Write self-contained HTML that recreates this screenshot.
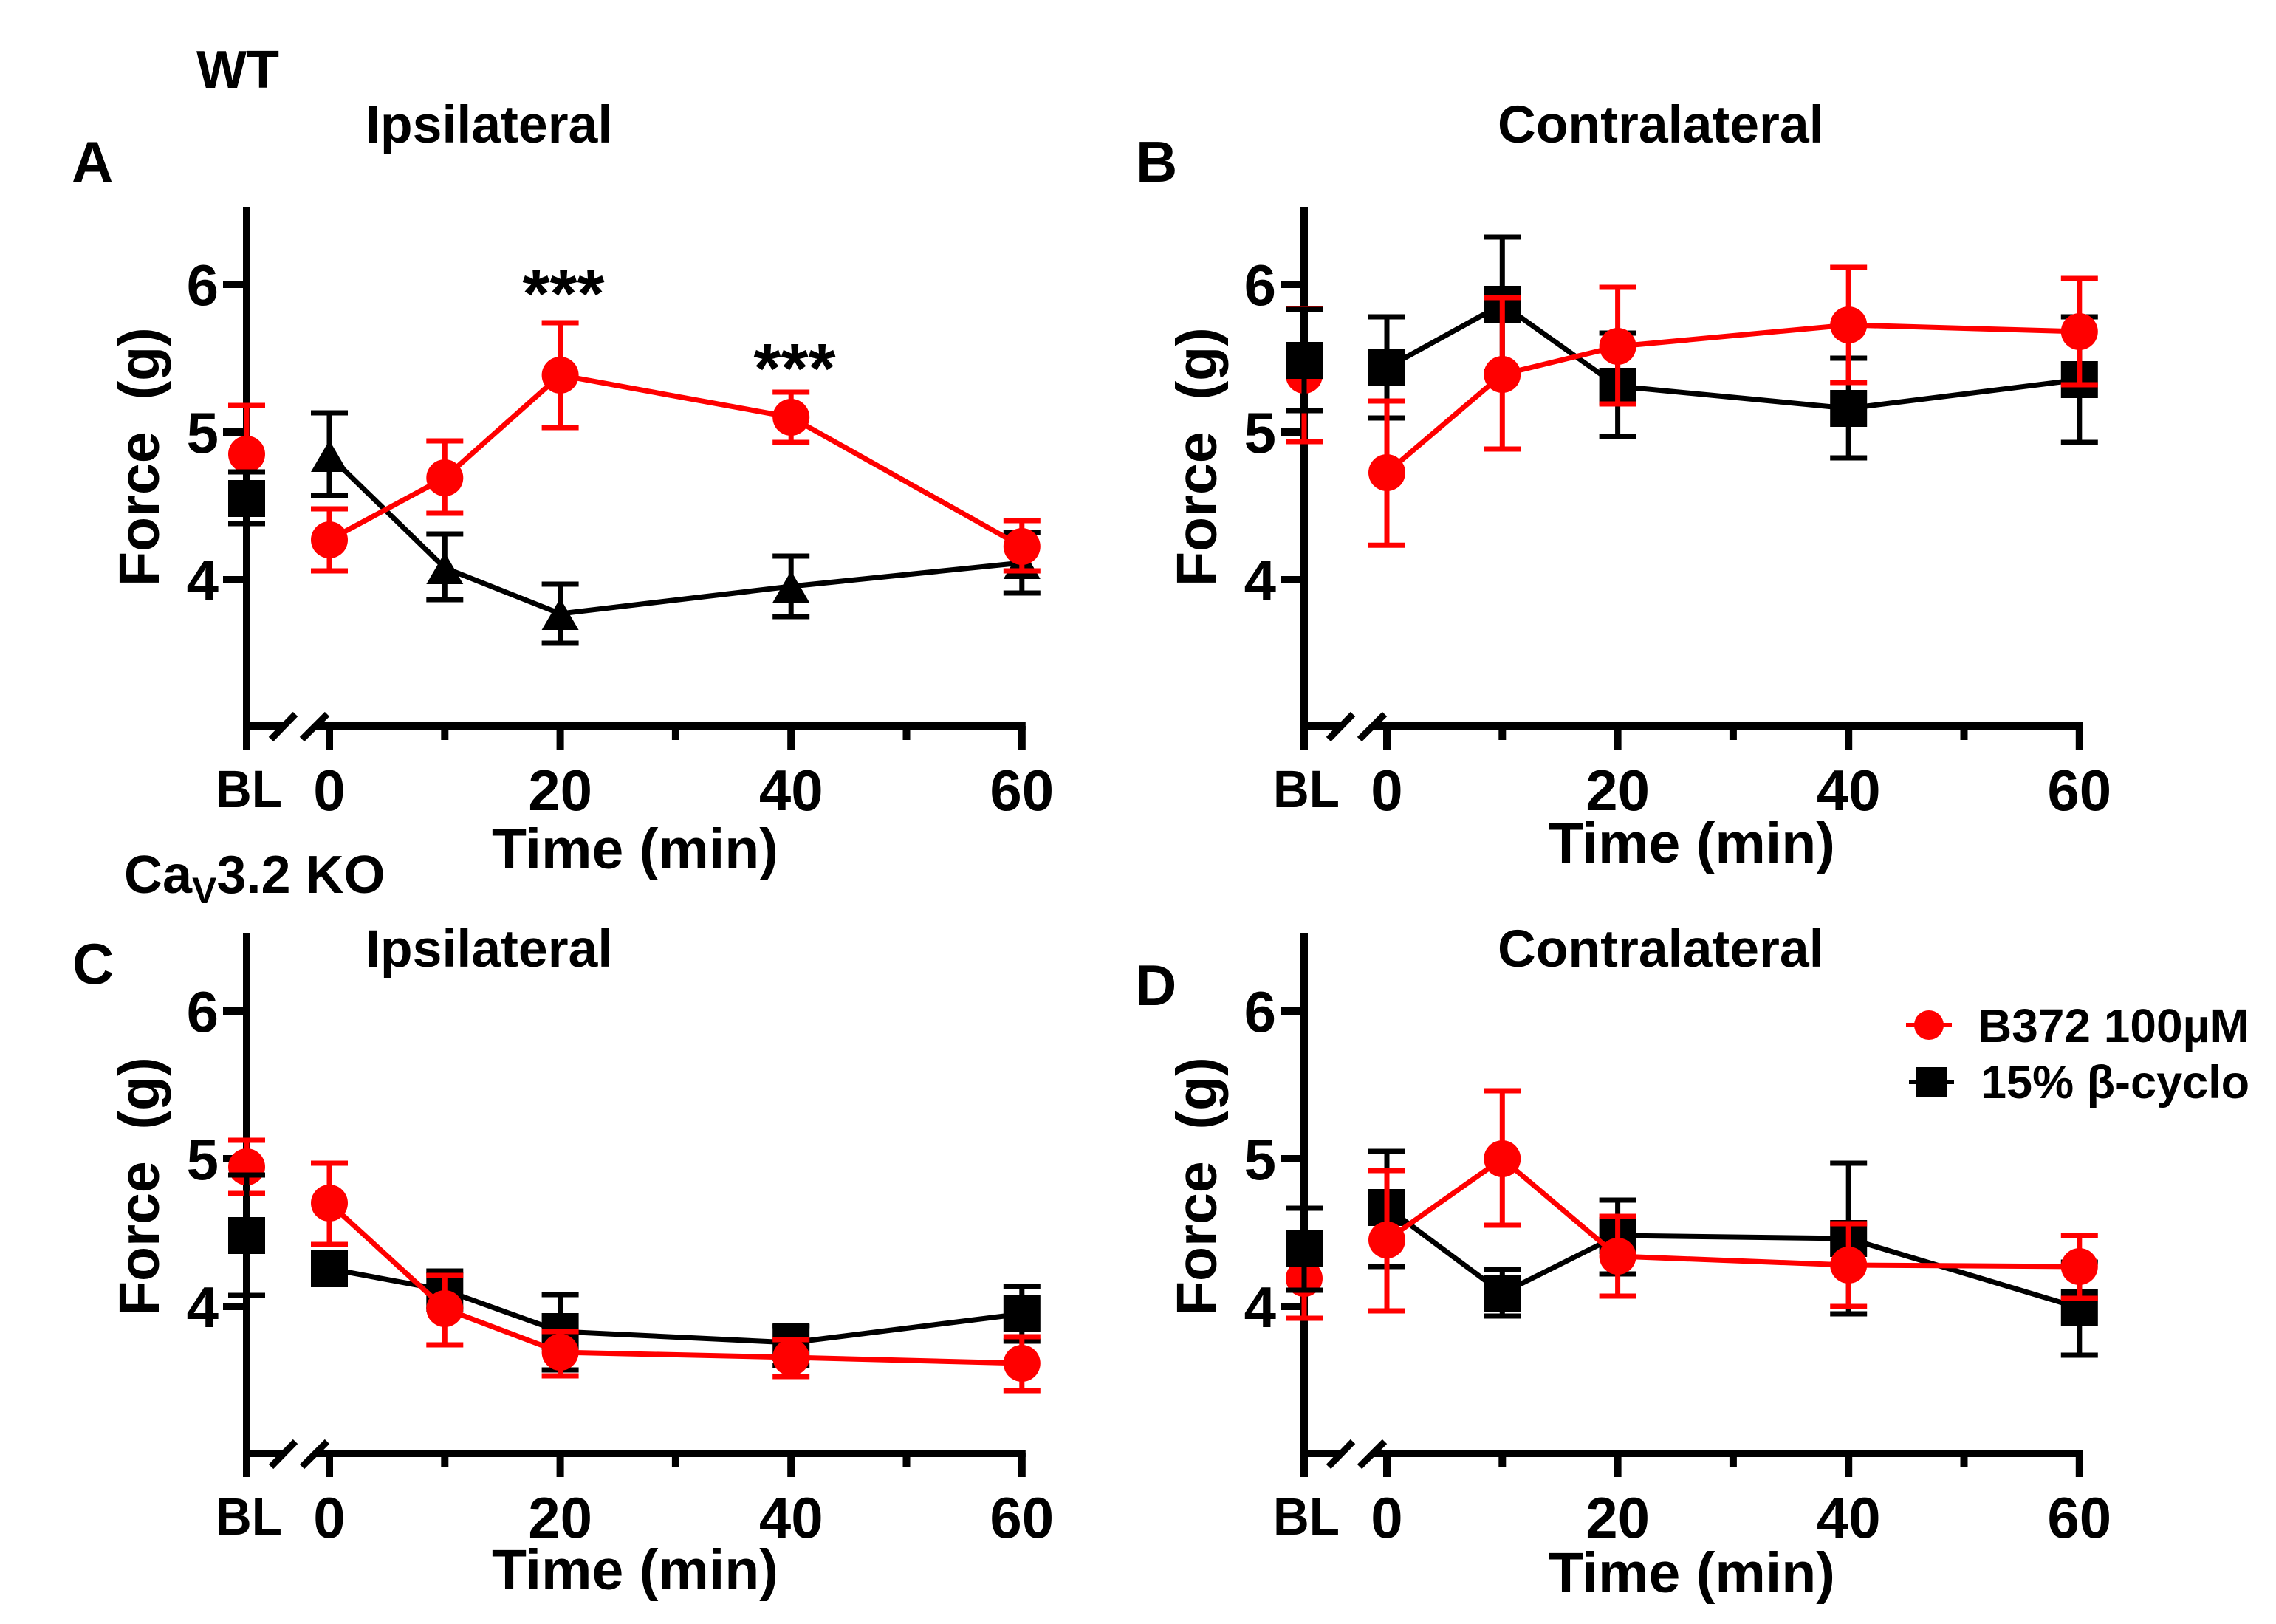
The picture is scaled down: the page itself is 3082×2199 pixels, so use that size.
<!DOCTYPE html>
<html lang="en">
<head>
<meta charset="utf-8">
<title>Force over time, WT and CaV3.2 KO</title>
<style>
html,body{margin:0;padding:0;background:#fff;}
svg{display:block;}
text{font-family:"Liberation Sans",Arial,sans-serif;font-weight:bold;fill:#000;white-space:pre;}
</style>
</head>
<body>
<svg id="figure" xmlns="http://www.w3.org/2000/svg" width="3082" height="2199" viewBox="0 0 3082 2199">
  <rect x="0" y="0" width="3082" height="2199" fill="#fff"/>
  <text x="266" y="119" font-size="72">WT</text>
  <text x="168" y="1209" font-size="72">Ca<tspan font-size="50" dy="14">V</tspan><tspan dy="-14">3.2 KO</tspan></text>

  <text x="97" y="246" font-size="78">A</text>
  <text x="1538" y="246" font-size="78">B</text>
  <text x="98" y="1332" font-size="78">C</text>
  <text x="1537" y="1361" font-size="78">D</text>

  <text x="495" y="193" font-size="71.6">Ipsilateral</text>
  <text x="2028" y="193" font-size="71.6">Contralateral</text>
  <text x="495" y="1309" font-size="71.6">Ipsilateral</text>
  <text x="2028" y="1309" font-size="71.6">Contralateral</text>

  <text x="666" y="1176" font-size="77">Time (min)</text>
  <text x="2097" y="1168" font-size="77">Time (min)</text>
  <text x="666" y="2152" font-size="77">Time (min)</text>
  <text x="2097" y="2156" font-size="77">Time (min)</text>

  <text transform="translate(215 794) rotate(-90)" font-size="77">Force  (g)</text>
  <text transform="translate(1647 794) rotate(-90)" font-size="77">Force  (g)</text>
  <text transform="translate(215 1782) rotate(-90)" font-size="77">Force  (g)</text>
  <text transform="translate(1647 1782) rotate(-90)" font-size="77">Force  (g)</text>

  <text x="763" y="430" font-size="95" text-anchor="middle">***</text>
  <text x="1076" y="531" font-size="95" text-anchor="middle">***</text>

  <g id="plots"></g>

  <g>
    <g>
      <line x1="2581" x2="2643" y1="1388" y2="1388" stroke="#ff0000" stroke-width="6"/>
      <circle cx="2612" cy="1388" r="20" fill="#ff0000"/>
      <text x="2678" y="1411" font-size="64">B372 100µM</text>
    </g>
    <g>
      <line x1="2585" x2="2646" y1="1465" y2="1465" stroke="#000" stroke-width="6"/>
      <rect x="2595" y="1445" width="41" height="40" fill="#000"/>
      <text x="2682" y="1487" font-size="63">15% β-cyclo</text>
    </g>
  </g>
</svg>

<script>
// ---- chart data (first entry in each series is baseline "BL") ----
const timeCategories = ["BL", 0, 10, 20, 40, 60];
const yTickValues = [4, 5, 6];
const xTickMinutes = [0, 10, 20, 30, 40, 50, 60];
const xTickLabels = [0, 20, 40, 60];
const baselineLabel = "BL";

const panelAB372Mean  = [4.85, 4.27, 4.69, 5.385, 5.10, 4.225];
const panelAB372Upper = [5.18, 4.48, 4.94, 5.74, 5.27, 4.40];
const panelAB372Lower = [4.51, 4.06, 4.45, 5.03, 4.93, 4.06];
const panelAVehMean   = [4.55, 4.84, 4.08, 3.77, 3.955, 4.115];
const panelAVehUpper  = [4.73, 5.13, 4.31, 3.97, 4.16, 4.32];
const panelAVehLower  = [4.38, 4.57, 3.865, 3.57, 3.75, 3.91];

const panelBB372Mean  = [5.385, 4.725, 5.39, 5.58, 5.725, 5.68];
const panelBB372Upper = [5.835, 5.21, 5.91, 5.98, 6.115, 6.04];
const panelBB372Lower = [4.935, 4.234, 4.885, 5.19, 5.335, 5.32];
const panelBVehMean   = [5.485, 5.435, 5.865, 5.31, 5.16, 5.355];
const panelBVehUpper  = [5.83, 5.78, 6.32, 5.67, 5.50, 5.78];
const panelBVehLower  = [5.145, 5.095, 5.41, 4.97, 4.825, 4.93];

const panelCB372Mean  = [4.945, 4.70, 3.985, 3.69, 3.655, 3.615];
const panelCB372Upper = [5.125, 4.97, 4.21, 3.83, 3.775, 3.795];
const panelCB372Lower = [4.765, 4.42, 3.74, 3.53, 3.525, 3.43];
const panelCVehMean   = [4.48, 4.255, 4.11, 3.83, 3.755, 3.95];
const panelCVehUpper  = [4.89, 4.35, 4.24, 4.08, 3.87, 4.135];
const panelCVehLower  = [4.075, 4.16, 3.98, 3.57, 3.60, 3.765];

const panelDB372Mean  = [4.19, 4.45, 5.0, 4.34, 4.28, 4.27];
const panelDB372Upper = [4.46, 4.92, 5.46, 4.61, 4.56, 4.48];
const panelDB372Lower = [3.92, 3.97, 4.55, 4.07, 4.0, 4.055];
const panelDVehMean   = [4.395, 4.67, 4.09, 4.48, 4.46, 3.99];
const panelDVehUpper  = [4.665, 5.05, 4.25, 4.72, 4.97, 4.30];
const panelDVehLower  = [4.11, 4.27, 3.935, 4.22, 3.95, 3.67];

// ---- layout ----
const SVG_NS = "http://www.w3.org/2000/svg";
const RED = "#ff0000";
const BLACK = "#000000";
const AXIS_W = 10;
const MARK_W = 7;
const CAP_W = 50;
const R = 25;
const MIN_PX = 15.63;
const UNIT_PX = 200;

function mk(parent, tag, attrs, name, interactable) {
  const el = document.createElementNS(SVG_NS, tag);
  for (const k in attrs) el.setAttribute(k, attrs[k]);
  
  
  parent.appendChild(el);
  return el;
}

function drawPanel(root, p) {
  const g = mk(root, 'g', {}, 'panel-' + p.id, false);
  const xOf = t => t === baselineLabel ? p.blX : p.zeroX + t * MIN_PX;
  const yOf = v => p.y6 + (6 - v) * UNIT_PX;
  const axisY = p.axisY;
  const tickEnd = axisY + 32;
  const minorEnd = axisY + 19;

  const axes = mk(g, 'g', {}, 'panel-' + p.id + '-axes', false);
  mk(axes, 'line', {x1: p.blX, x2: p.blX, y1: yOf(6) - 105, y2: tickEnd, stroke: BLACK, 'stroke-width': AXIS_W}, 'panel-' + p.id + '-y-axis', false);
  yTickValues.forEach(v => {
    mk(axes, 'line', {x1: p.blX - 32, x2: p.blX, y1: yOf(v), y2: yOf(v), stroke: BLACK, 'stroke-width': AXIS_W}, 'panel-' + p.id + '-y-tick-' + v, false);
    const t = mk(axes, 'text', {x: p.blX - 38, y: yOf(v) + 28, 'font-size': 78, 'text-anchor': 'end'}, 'panel-' + p.id + '-y-tick-label-' + v, false);
    t.textContent = String(v);
  });
  mk(axes, 'line', {x1: p.blX, x2: p.blX + 50, y1: axisY, y2: axisY, stroke: BLACK, 'stroke-width': AXIS_W}, 'panel-' + p.id + '-x-axis-baseline-segment', false);
  mk(axes, 'line', {x1: p.blX + 92, x2: xOf(60) + 5, y1: axisY, y2: axisY, stroke: BLACK, 'stroke-width': AXIS_W}, 'panel-' + p.id + '-x-axis-time-segment', false);
  mk(axes, 'line', {x1: p.blX + 33, y1: axisY + 18, x2: p.blX + 66, y2: axisY - 16, stroke: BLACK, 'stroke-width': 9}, 'panel-' + p.id + '-axis-break-left', false);
  mk(axes, 'line', {x1: p.blX + 75, y1: axisY + 18, x2: p.blX + 109, y2: axisY - 16, stroke: BLACK, 'stroke-width': 9}, 'panel-' + p.id + '-axis-break-right', false);
  xTickMinutes.forEach(m => {
    const major = xTickLabels.indexOf(m) >= 0;
    mk(axes, 'line', {x1: xOf(m), x2: xOf(m), y1: axisY, y2: major ? tickEnd : minorEnd, stroke: BLACK, 'stroke-width': AXIS_W}, 'panel-' + p.id + '-x-tick-' + m, false);
  });
  xTickLabels.forEach(m => {
    const t = mk(axes, 'text', {x: xOf(m), y: tickEnd + 82, 'font-size': 78, 'text-anchor': 'middle'}, 'panel-' + p.id + '-x-tick-label-' + m, false);
    t.textContent = String(m);
  });
  const bl = mk(axes, 'text', {x: p.blX + 3, y: tickEnd + 78, 'font-size': 71, 'text-anchor': 'middle', textLength: 90, lengthAdjust: 'spacingAndGlyphs'}, 'panel-' + p.id + '-x-tick-label-bl', false);
  bl.textContent = baselineLabel;

  function marker(parent, shape, cx, cy, color, name) {
    if (shape === 'circle') {
      mk(parent, 'circle', {cx: cx, cy: cy, r: R, fill: color}, name, true);
    } else if (shape === 'square') {
      mk(parent, 'rect', {x: cx - R, y: cy - R, width: 2 * R, height: 2 * R, fill: color}, name, true);
    } else {
      mk(parent, 'polygon', {points: (cx) + ',' + (cy - 21) + ' ' + (cx + R) + ',' + (cy + 22) + ' ' + (cx - R) + ',' + (cy + 22), fill: color}, name, true);
    }
  }

  function errorBar(parent, i, s) {
    const x = xOf(timeCategories[i]);
    const label = 'panel-' + p.id + '-' + s.key + '-' + timeCategories[i];
    mk(parent, 'line', {x1: x, x2: x, y1: yOf(s.upper[i]), y2: yOf(s.lower[i]), stroke: s.color, 'stroke-width': MARK_W}, label + '-error-stem', false);
    mk(parent, 'line', {x1: x - CAP_W / 2, x2: x + CAP_W / 2, y1: yOf(s.upper[i]), y2: yOf(s.upper[i]), stroke: s.color, 'stroke-width': MARK_W}, label + '-error-cap-upper', false);
    mk(parent, 'line', {x1: x - CAP_W / 2, x2: x + CAP_W / 2, y1: yOf(s.lower[i]), y2: yOf(s.lower[i]), stroke: s.color, 'stroke-width': MARK_W}, label + '-error-cap-lower', false);
  }

  function point(parent, i, s, shape) {
    errorBar(parent, i, s);
    marker(parent, shape, xOf(timeCategories[i]), yOf(s.mean[i]), s.color, 'panel-' + p.id + '-' + s.key + '-point-' + timeCategories[i]);
  }

  // baseline points: B372 first, vehicle (always square) on top
  const baseGroup = mk(g, 'g', {}, 'panel-' + p.id + '-baseline-points', false);
  point(baseGroup, 0, p.red, 'circle');
  point(baseGroup, 0, p.black, 'square');

  // time-course series: vehicle first, B372 on top
  [p.black, p.red].forEach(s => {
    const sg = mk(g, 'g', {}, 'panel-' + p.id + '-series-' + s.key, false);
    const pts = [];
    for (let i = 1; i < timeCategories.length; i++) pts.push(xOf(timeCategories[i]) + ',' + yOf(s.mean[i]));
    mk(sg, 'polyline', {points: pts.join(' '), fill: 'none', stroke: s.color, 'stroke-width': MARK_W, 'stroke-linejoin': 'round'}, 'panel-' + p.id + '-' + s.key + '-line', false);
    for (let i = 1; i < timeCategories.length; i++) point(sg, i, s, s.shape);
  });
}

function series(key, color, shape, mean, upper, lower) {
  return {key: key, color: color, shape: shape, mean: mean, upper: upper, lower: lower};
}

const plotRoot = document.getElementById('plots');

drawPanel(plotRoot, {id: 'a', blX: 334, zeroX: 446, y6: 385, axisY: 983,
  red: series('b372', RED, 'circle', panelAB372Mean, panelAB372Upper, panelAB372Lower),
  black: series('vehicle', BLACK, 'triangle', panelAVehMean, panelAVehUpper, panelAVehLower)});
drawPanel(plotRoot, {id: 'b', blX: 1766, zeroX: 1878, y6: 385, axisY: 983,
  red: series('b372', RED, 'circle', panelBB372Mean, panelBB372Upper, panelBB372Lower),
  black: series('vehicle', BLACK, 'square', panelBVehMean, panelBVehUpper, panelBVehLower)});
drawPanel(plotRoot, {id: 'c', blX: 334, zeroX: 446, y6: 1369, axisY: 1968,
  red: series('b372', RED, 'circle', panelCB372Mean, panelCB372Upper, panelCB372Lower),
  black: series('vehicle', BLACK, 'square', panelCVehMean, panelCVehUpper, panelCVehLower)});
drawPanel(plotRoot, {id: 'd', blX: 1766, zeroX: 1878, y6: 1369, axisY: 1968,
  red: series('b372', RED, 'circle', panelDB372Mean, panelDB372Upper, panelDB372Lower),
  black: series('vehicle', BLACK, 'square', panelDVehMean, panelDVehUpper, panelDVehLower)});
</script>
</body>
</html>
